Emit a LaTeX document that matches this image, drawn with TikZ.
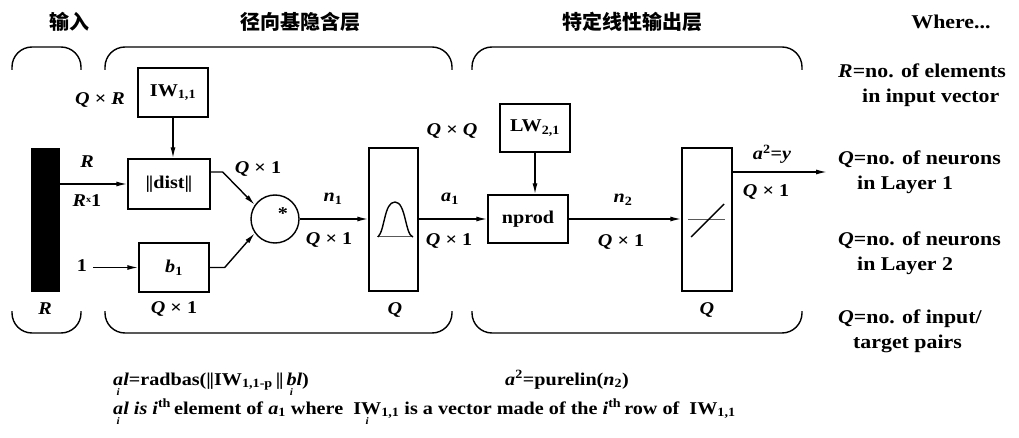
\documentclass[tikz,border=0pt]{standalone}
\usepackage{fontspec}
\setmainfont{Liberation Serif}[FakeStretch=1.12]
\newfontfamily\cjk{Noto Sans CJK SC}
\usetikzlibrary{arrows.meta}
\newcommand\bi[1]{\textbf{\textit{#1}}}
\newcommand\dbar{\textbf{|\kern-1.2pt|}}
\newcommand\ubi[1]{\ooalign{#1\cr\hidewidth\raisebox{-10pt}{\fontsize{10}{10}\selectfont\textit{i}}\hidewidth\cr}}
\tikzset{
  lbl/.style={font=\fontsize{18}{20}\selectfont\bfseries, inner sep=0pt},
  ttl/.style={font=\cjk\bfseries\fontsize{20}{20}\selectfont, inner sep=0pt},
  rtxt/.style={font=\fontsize{19.5}{22}\selectfont\bfseries, inner sep=0pt, anchor=base west},
  ftxt/.style={font=\fontsize{18}{22}\selectfont\bfseries, inner sep=0pt, anchor=base west},
  box/.style={draw, line width=1.4pt, inner sep=0pt},
  arr/.style={line width=1.4pt, -{Latex[length=11pt,width=5pt]}},
  ln/.style={line width=1.4pt},
  brk/.style={line width=1.4pt, rounded corners=20pt},
}
\begin{document}
\begin{tikzpicture}[x=1pt,y=-1pt]
\useasboundingbox (0,0) rectangle (1019,438);
% titles
\node[ttl] (t1) at (69,22) {输入};
\node[ttl] (t2) at (300,22) {径向基隐含层};
\node[ttl] (t3) at (632,22) {特定线性输出层};
% brackets
\draw[brk] (12,70) -- (12,47) -- (81,47) -- (81,70);
\draw[brk] (105,70) -- (105,47) -- (452,47) -- (452,70);
\draw[brk] (472,70) -- (472,47) -- (802,47) -- (802,70);
\draw[brk] (12,311) -- (12,333) -- (81,333) -- (81,311);
\draw[brk] (105,311) -- (105,333) -- (452,333) -- (452,311);
\draw[brk] (472,311) -- (472,333) -- (802,333) -- (802,311);
% boxes
\node[box, fill=black, minimum width=27pt, minimum height=142pt] (bar) at (45.5,220) {};
\node[box, lbl, minimum width=70pt, minimum height=49pt] (iw) at (173,92.5) {IW\textsubscript{1,1}};
\node[box, lbl, minimum width=82pt, minimum height=50pt] (dist) at (169,184) {\dbar dist\dbar};
\node[box, lbl, minimum width=70pt, minimum height=49pt] (b1) at (174,267.5) {\bi{b}\textsubscript{1}};
\node[draw, circle, line width=1.4pt, minimum size=48pt, inner sep=0pt] (circ) at (275,219) {};
\node[lbl] (star) at (283,214) {*};
\node[box, minimum width=49pt, minimum height=143pt] (rb) at (393.5,219.5) {};
\node[box, lbl, minimum width=70pt, minimum height=48pt] (lw) at (535,128) {LW\textsubscript{2,1}};
\node[box, lbl, minimum width=80pt, minimum height=48pt] (np) at (528,219) {nprod};
\node[box, minimum width=50pt, minimum height=143pt] (pl) at (707,219.5) {};
% transfer symbols
\draw[line width=1pt, gray!70!black] (377,237) -- (413,237);
\draw[ln] (378,237) .. controls (385,230) and (384,202) .. (395,202) .. controls (406,202) and (405,235) .. (413,237);
\draw[line width=1pt, gray!70!black] (688,220) -- (725,220);
\draw[ln] (691,237) -- (724,204);
% input labels
\node[lbl] (one) at (82,266) {1};
\node[lbl] (lr) at (87,162) {\bi{R}};
\node[lbl] (lr1) at (87,201) {\bi{R}\raisebox{4pt}{\fontsize{9}{9}\selectfont x}1};
\node[lbl] (lrb) at (45,309) {\bi{R}};
\node[lbl] (lqr) at (100,100) {\bi{Q} × \bi{R}};
\node[lbl] (lb1) at (174,309) {\bi{Q} × 1};
\node[lbl] (ld) at (258,169) {\bi{Q} × 1};
\node[lbl] (ln1) at (333,199) {\bi{n}\textsubscript{1}};
\node[lbl] (ln1b) at (329,240) {\bi{Q} × 1};
\node[lbl] (lq1) at (395,310) {\bi{Q}};
\node[lbl] (la1) at (450,199) {\bi{a}\textsubscript{1}};
\node[lbl] (la1b) at (449,241) {\bi{Q} × 1};
\node[lbl] (lqq) at (452,131) {\bi{Q} × \bi{Q}};
\node[lbl] (ln2) at (623,200) {\bi{n}\textsubscript{2}};
\node[lbl] (ln2b) at (621,242) {\bi{Q} × 1};
\node[lbl] (lq2) at (707,310) {\bi{Q}};
\node[lbl] (la2) at (772,154) {\bi{a}\textsuperscript{2}=\bi{y}};
\node[lbl] (la2b) at (766,192) {\bi{Q} × 1};
% connectors
\draw[arr] (dist.west -| bar.east) -- (dist.west);
\draw[arr] ([xshift=6pt]one.east |- b1.west) -- (b1.west);
\draw[arr] (iw.south) -- (iw.south |- dist.north);
\draw[arr] ([yshift=12pt]dist.east) -- ++(12,0) -- (circ.145);
\draw[arr] (b1.east) -- ++(15,0) -- (circ.215);
\draw[arr] (circ.east) -- (rb.west |- circ.east);
\draw[arr] (rb.east |- np.west) -- (np.west);
\draw[arr] (lw.south) -- (lw.south |- np.north);
\draw[arr] (np.east) -- (pl.west |- np.east);
\coordinate (out) at (827,172);
\draw[arr] (out -| pl.east) -- (out);
% right column
\node[lbl, font=\fontsize{19.5}{22}\selectfont\bfseries] (wh) at (951,22) {Where...};
\node[rtxt] (r1) at (838,78) {\bi{R}=no. of elements};
\node[rtxt] (r2) at (862,103) {in input vector};
\node[rtxt] (r3) at (838,165) {\bi{Q}=no. of neurons};
\node[rtxt] (r4) at (857,190) {in Layer 1};
\node[rtxt] (r5) at (838,245) {\bi{Q}=no. of neurons};
\node[rtxt] (r6) at (857,270) {in Layer 2};
\node[rtxt] (r7) at (838,323) {\bi{Q}=no. of input/};
\node[rtxt] (r8) at (853,348) {target pairs};
% formulas
\node[ftxt] (f1) at (113,385) {\ubi{\bi{a}}\bi{l}=radbas(\dbar IW\textsubscript{1,1-p}\,\dbar\,\ubi{\bi{b}}\bi{l})};
\node[ftxt] (f2) at (505,385) {\bi{a}\textsuperscript{2}=purelin(\bi{n}\textsubscript{2})};
\node[ftxt] (f3) at (113,414) {\ubi{\bi{a}}\bi{l} \bi{is} \bi{i}\textsuperscript{th}\,element of \bi{a}\textsubscript{1} where\ \ \ubi{IW}\textsubscript{1,1} is a vector made of the \bi{i}\textsuperscript{th}\,row of\ \ IW\textsubscript{1,1}};
\end{tikzpicture}
\end{document}
